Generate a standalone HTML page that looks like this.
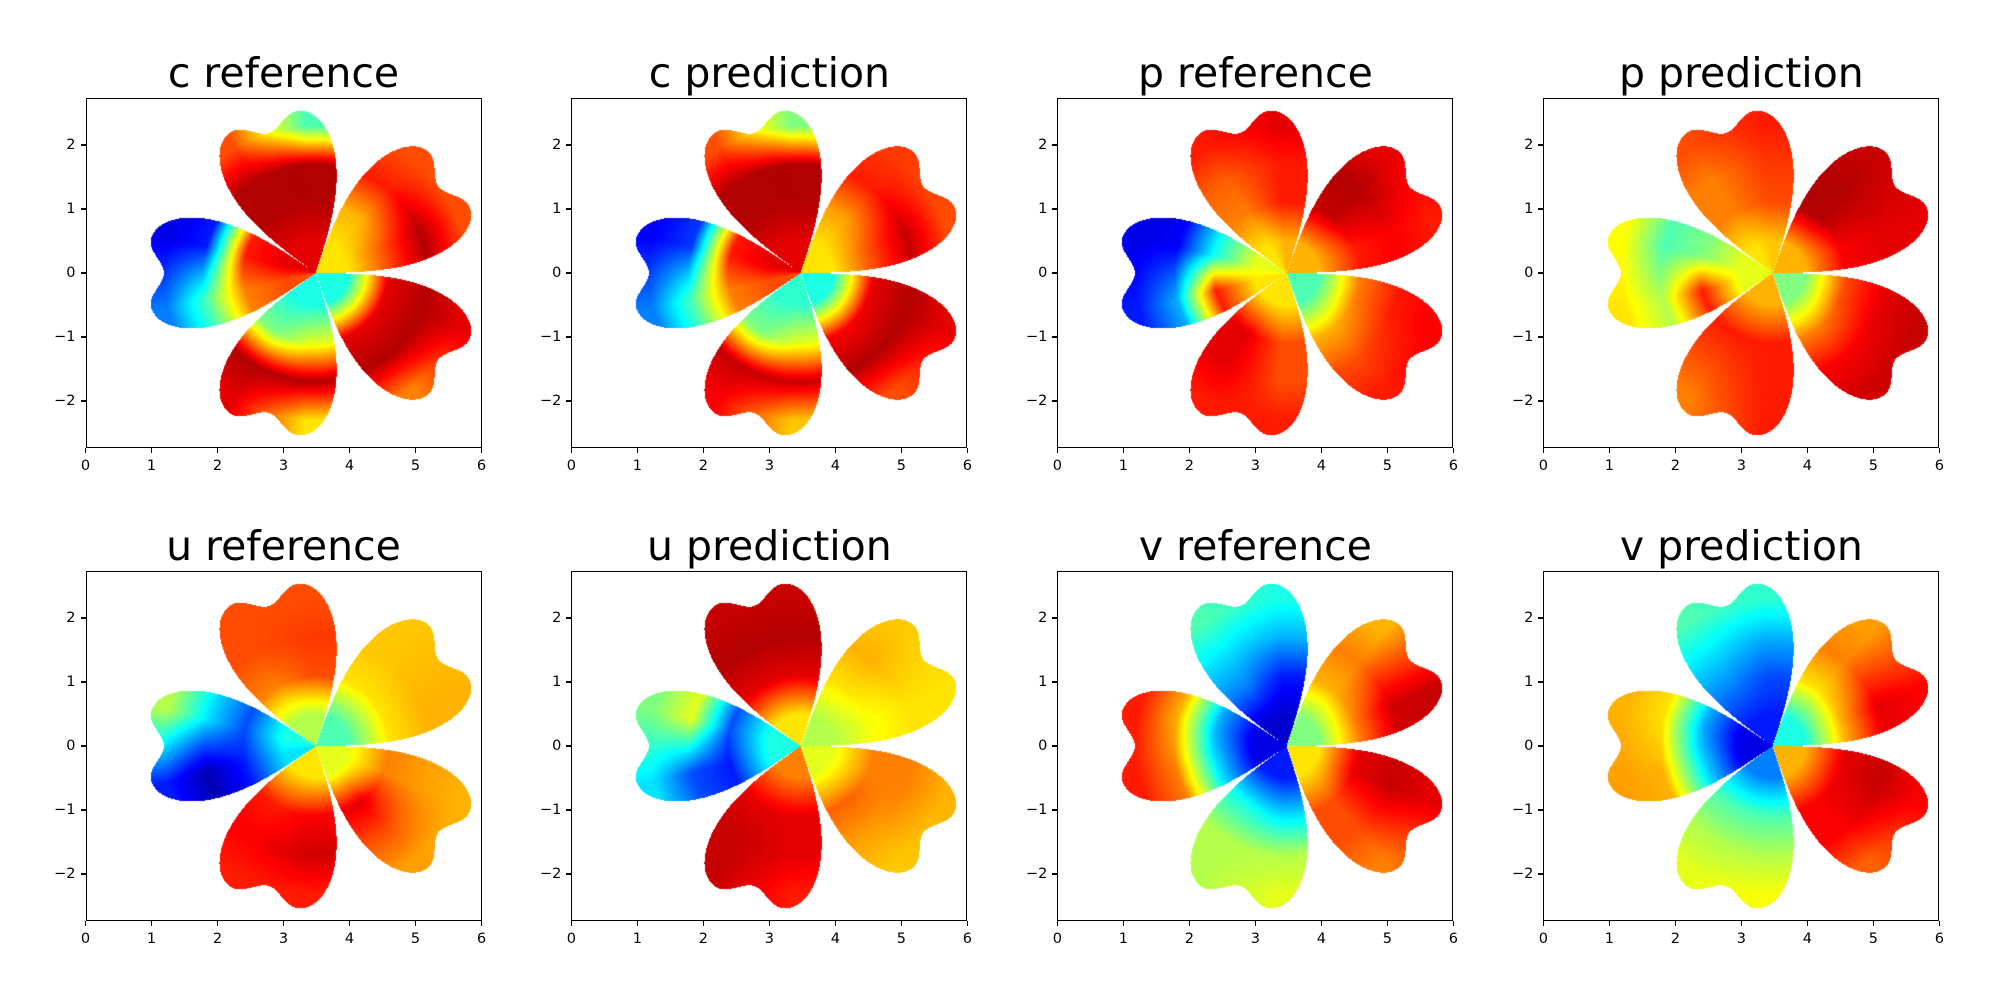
<!DOCTYPE html>
<html><head><meta charset="utf-8">
<style>
html,body{margin:0;padding:0;background:#fff;}
#fig{position:relative;width:2000px;height:1000px;overflow:hidden;background:#fff;font-family:"DejaVu Sans","Liberation Sans",sans-serif;}
.panel{position:absolute;width:396px;height:350px;}
.panel canvas{position:absolute;left:0;top:0;}
.frame{position:absolute;left:0;top:0;width:396px;height:350px;box-sizing:border-box;border:1.3px solid #000;}
.title{position:absolute;left:-100px;width:596px;text-align:center;font-size:41px;top:-49px;line-height:48px;color:#000;}
.xt,.yt{position:absolute;font-size:14.5px;color:#000;line-height:16px;}
.xt{top:360px;width:40px;margin-left:-20px;text-align:center;}
.yt{left:-50px;width:40px;text-align:right;margin-top:-8px;}
.tk{position:absolute;background:#000;}
</style></head>
<body>
<div id="fig"></div>
<script>
// petal order: left(180), top(108), upper-right(36), lower-right(-36), bottom(-108)
// lo = petal angle -14deg side, hi = +14deg side; radii 0.5, 1.1, 1.7, 2.3
const titles = ["c reference","c prediction","p reference","p prediction","u reference","u prediction","v reference","v prediction"];
const xTicks = [0,1,2,3,4,5,6];
const yTicks = [-2,-1,0,1,2];
const cRefLo = [[0.9,0.85,0.15,0.1],[0.9,0.95,0.95,0.45],[0.65,0.8,0.95,0.8],[0.4,0.9,0.95,0.75],[0.4,0.5,0.95,0.9]];
const cRefHi = [[0.8,0.75,0.45,0.25],[0.9,0.95,0.95,0.8],[0.65,0.7,0.85,0.8],[0.4,0.9,0.95,0.9],[0.4,0.6,0.95,0.65]];
const cPredLo = [[0.9,0.85,0.18,0.12],[0.9,0.95,0.95,0.5],[0.65,0.8,0.93,0.8],[0.4,0.88,0.95,0.8],[0.42,0.5,0.93,0.88]];
const cPredHi = [[0.8,0.75,0.45,0.25],[0.9,0.95,0.95,0.8],[0.65,0.72,0.85,0.82],[0.4,0.9,0.95,0.9],[0.42,0.6,0.93,0.68]];
const pRefLo = [[0.6,0.4,0.12,0.1],[0.7,0.85,0.85,0.9],[0.7,0.85,0.88,0.85],[0.45,0.7,0.8,0.85],[0.65,0.9,0.9,0.85]];
const pRefHi = [[0.65,0.85,0.3,0.15],[0.65,0.75,0.78,0.85],[0.7,0.93,0.95,0.9],[0.45,0.75,0.85,0.88],[0.65,0.8,0.8,0.85]];
const pPredLo = [[0.6,0.5,0.45,0.62],[0.68,0.8,0.82,0.85],[0.7,0.88,0.9,0.9],[0.5,0.75,0.88,0.92],[0.7,0.85,0.8,0.75]];
const pPredHi = [[0.6,0.85,0.55,0.65],[0.65,0.75,0.75,0.8],[0.7,0.95,0.95,0.93],[0.5,0.8,0.9,0.93],[0.7,0.85,0.85,0.85]];
const uRefLo = [[0.4,0.2,0.35,0.55],[0.55,0.8,0.82,0.8],[0.45,0.65,0.7,0.7],[0.6,0.9,0.8,0.72],[0.65,0.85,0.88,0.85]];
const uRefHi = [[0.35,0.15,0.05,0.15],[0.55,0.75,0.8,0.8],[0.45,0.65,0.68,0.68],[0.6,0.75,0.72,0.7],[0.65,0.88,0.92,0.85]];
const uPredLo = [[0.4,0.2,0.6,0.5],[0.65,0.9,0.95,0.93],[0.55,0.62,0.65,0.65],[0.6,0.78,0.72,0.68],[0.75,0.9,0.93,0.93]];
const uPredHi = [[0.4,0.15,0.2,0.35],[0.65,0.9,0.95,0.93],[0.55,0.65,0.7,0.68],[0.6,0.75,0.75,0.7],[0.75,0.9,0.9,0.85]];
const vRefLo = [[0.1,0.3,0.7,0.85],[0.08,0.15,0.3,0.4],[0.5,0.75,0.92,0.93],[0.65,0.8,0.8,0.75],[0.15,0.4,0.55,0.55]];
const vRefHi = [[0.1,0.35,0.75,0.85],[0.08,0.25,0.35,0.45],[0.5,0.7,0.75,0.7],[0.65,0.9,0.93,0.9],[0.15,0.35,0.55,0.6]];
const vPredLo = [[0.1,0.3,0.65,0.7],[0.15,0.2,0.3,0.42],[0.4,0.7,0.9,0.88],[0.7,0.88,0.88,0.78],[0.25,0.45,0.55,0.6]];
const vPredHi = [[0.1,0.35,0.7,0.72],[0.15,0.25,0.35,0.45],[0.4,0.65,0.75,0.72],[0.7,0.9,0.93,0.88],[0.25,0.45,0.55,0.62]];
const fieldsLo = [cRefLo,cPredLo,pRefLo,pPredLo,uRefLo,uPredLo,vRefLo,vPredLo];
const fieldsHi = [cRefHi,cPredHi,pRefHi,pPredHi,uRefHi,uPredHi,vRefHi,vPredHi];
const petalAngles = [180,108,36,-36,-108];

const W=396,H=350,X0=0,X1=6,Y0=-2.735,Y1=2.735,CX=3.48;
const lefts=[85.5,571.4,1057.4,1543.4], tops=[98,571];
function sx(v){return (v-X0)/(X1-X0)*W;}
function sy(v){return (Y1-v)/(Y1-Y0)*H;}
function cl(v){return Math.max(0,Math.min(1,v));}
function jet(v){return [cl(1.5-Math.abs(4*v-3)),cl(1.5-Math.abs(4*v-2)),cl(1.5-Math.abs(4*v-1))];}
function rmax(psi){const a=Math.abs(psi);
  if(a<12) return 2.3+0.25*(1-Math.cos(Math.PI*a/12))/2;
  if(a>=35.5) return 0;
  return 2.55*Math.pow(Math.cos(Math.PI/2*(a-12)/23.5),0.5);}
function interp(arr,s){const i=Math.min(2,Math.floor(s));const f=s-i;return arr[i]*(1-f)+arr[i+1]*f;}

const fig=document.getElementById('fig');
for(let k=0;k<8;k++){
  const p=document.createElement('div');p.className='panel';
  
  
  p.style.left=lefts[k%4]+'px';p.style.top=tops[Math.floor(k/4)]+'px';
  const cv=document.createElement('canvas');cv.width=W;cv.height=H;
  
  
  const ctx=cv.getContext('2d');const img=ctx.createImageData(W,H);const d=img.data;
  const lo=fieldsLo[k],hi=fieldsHi[k];
  for(let py=0;py<H;py++){for(let px=0;px<W;px++){
    const x=X0+(px+0.5)/W*(X1-X0), y=Y1-(py+0.5)/H*(Y1-Y0);
    const dx=x-CX,dy=y;const r=Math.hypot(dx,dy);
    const th=Math.atan2(dy,dx)*180/Math.PI;
    let best=0,bpsi=999;
    for(let j=0;j<5;j++){let ps=th-petalAngles[j];ps=((ps+540)%360)-180;if(Math.abs(ps)<Math.abs(bpsi)){bpsi=ps;best=j;}}
    if(r>rmax(bpsi))continue;
    const t=cl((bpsi+14)/28), s=Math.max(0,Math.min(3,(r-0.5)/0.6));
    const v=interp(lo[best],s)*(1-t)+interp(hi[best],s)*t;
    const c=jet(v);const o=(py*W+px)*4;
    d[o]=c[0]*255;d[o+1]=c[1]*255;d[o+2]=c[2]*255;d[o+3]=255;}}
  ctx.putImageData(img,0,0);p.appendChild(cv);
  const fr=document.createElement('div');fr.className='frame';
  
  
  p.appendChild(fr);
  const t=document.createElement('div');t.className='title';t.textContent=titles[k];
  
  
  p.appendChild(t);
  xTicks.forEach(v=>{
    const tk=document.createElement('div');tk.className='tk';
    tk.style.left=(sx(v)-0.6)+'px';tk.style.top=H+'px';tk.style.width='1.2px';tk.style.height='5px';
    
    
    p.appendChild(tk);
    const l=document.createElement('div');l.className='xt';l.style.left=sx(v)+'px';l.textContent=String(v);
    
    
    p.appendChild(l);
  });
  yTicks.forEach(v=>{
    const tk=document.createElement('div');tk.className='tk';
    tk.style.left='-5px';tk.style.top=(sy(v)-0.6)+'px';tk.style.width='5px';tk.style.height='1.2px';
    
    
    p.appendChild(tk);
    const l=document.createElement('div');l.className='yt';l.style.top=sy(v)+'px';l.textContent=(v<0?'\u2212'+(-v):String(v));
    
    
    p.appendChild(l);
  });
  fig.appendChild(p);
}
</script>
</body></html>
